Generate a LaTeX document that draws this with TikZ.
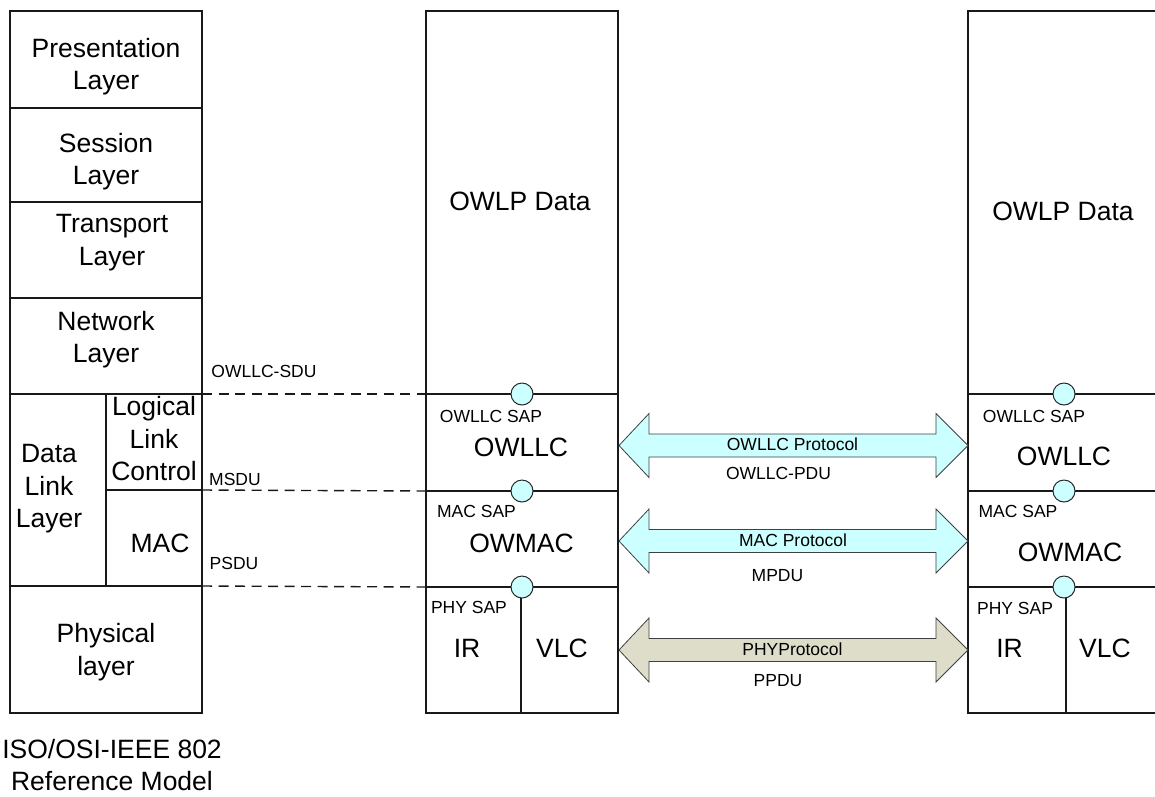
\documentclass[tikz,border=0pt]{standalone}
\usepackage{fontspec}
\setmainfont{Liberation Sans}
\definecolor{sapfill}{HTML}{CCFFFF}
\definecolor{arrfill}{HTML}{CCFFFF}
\definecolor{phyfill}{HTML}{DDDDCA}
\newcommand{\owarrow}[3]{% name, y centre, fill
  \draw[arrowline, fill=#3] (619,#2) coordinate (#1W) -- (649,{#2-32}) -- (649,{#2-11.5}) -- (936,{#2-11.5}) -- (936,{#2-32})
    -- (968,#2) coordinate (#1E) -- (936,{#2+32}) -- (936,{#2+11.5}) -- (649,{#2+11.5}) -- (649,{#2+32}) -- cycle;}
\begin{document}
\begin{tikzpicture}[x=1pt,y=-1pt,
  frame/.style={line width=1.4pt, draw=black!90},
  big/.style={font=\fontsize{26.5}{32.5}\selectfont, align=center, inner sep=0pt},
  small/.style={font=\fontsize{17.5}{21}\selectfont, inner sep=0pt},
  sap/.style={circle, draw=black!85, line width=1pt, fill=sapfill, minimum size=22pt, inner sep=0pt},
  dashline/.style={line width=1.4pt, draw=black!90, dash pattern=on 10pt off 6.5pt},
  arrowline/.style={draw=black!75, line width=0.8pt}
]
\clip (0,0) rectangle (1155,796);
\fill[white] (0,0) rectangle (1155,796);

% ---------- left reference stack ----------
\draw[frame] (10,11) rectangle (202,713);
\draw[frame] (10,108) -- (202,108);
\draw[frame] (10,202) -- (202,202);
\draw[frame] (10,298) -- (202,298);
\draw[frame] (10,394) -- (202,394);
\draw[frame] (10,586) -- (202,586);
\draw[frame] (106,394) -- (106,586);
\draw[frame] (106,490) -- (202,490);

\node[big] (pres) at (106,66.7) {Presentation\\Layer};
\node[big] (sess) at (106,161.7) {Session\\Layer};
\node[big] (trans) at (112,242.7) {Transport\\Layer};
\node[big] (netw) at (106,339.7) {Network\\Layer};
\node[big] (dll) at (49,489) {Data\\Link\\Layer};
\node[big] (llc) at (154,439) {Logical\\Link\\Control};
\node[big] (mac) at (160,543) {MAC};
\node[big] (phys) at (106,652) {Physical\\layer};
\node[big] (iso) at (112,765) {ISO/OSI-IEEE 802\\Reference Model};

% ---------- middle stack ----------
\draw[frame] (426,11) rectangle (618,713);
\draw[frame] (426,394) -- (618,394);
\draw[frame] (426,491) -- (618,491);
\draw[frame] (426,587) -- (618,587);
\draw[frame] (521,587) -- (521,713);

% ---------- right stack (cut at the page edge) ----------
\draw[frame] (1170,11) -- (968,11) -- (968,713) -- (1170,713);
\draw[frame] (968,394) -- (1170,394);
\draw[frame] (968,491) -- (1170,491);
\draw[frame] (968,587) -- (1170,587);
\draw[frame] (1066,587) -- (1066,713);

% ---------- SAP circles ----------
\node[sap] (sapM1) at (522,394) {};
\node[sap] (sapM2) at (522,491) {};
\node[sap] (sapM3) at (522,587) {};
\node[sap] (sapR1) at (1064,394) {};
\node[sap] (sapR2) at (1064,491) {};
\node[sap] (sapR3) at (1064,587) {};

% ---------- dashed service-data connectors ----------
\coordinate (sduL) at (202,394); \coordinate (sduM) at (426,394);
\coordinate (msduL) at (202,490); \coordinate (msduM) at (426,491);
\coordinate (psduL) at (202,586); \coordinate (psduM) at (426,587);
\draw[dashline] (sduL) -- (sduM);
\draw[dashline] (msduL) -- (msduM);
\draw[dashline] (psduL) -- (psduM);
\node[small] (sdu) at (264,371) {OWLLC-SDU};
\node[small] (msdu) at (235,479.5) {MSDU};
\node[small] (psdu) at (234,563) {PSDU};

% ---------- middle texts ----------
\node[big] (dataM) at (520,201) {OWLP Data};
\node[small] (sapM1t) at (491,416) {OWLLC SAP};
\node[big] (owllcM) at (521,447) {OWLLC};
\node[small] (sapM2t) at (476.5,511) {MAC SAP};
\node[big] (owmacM) at (521.5,543) {OWMAC};
\node[small] (sapM3t) at (469,607.5) {PHY SAP};
\node[big] (irM) at (467,648.5) {IR};
\node[big] (vlcM) at (562,648.5) {VLC};

% ---------- right texts ----------
\node[big] (dataR) at (1063,211) {OWLP Data};
\node[small] (sapR1t) at (1034,416) {OWLLC SAP};
\node[big] (owllcR) at (1064,456.5) {OWLLC};
\node[small] (sapR2t) at (1018,511) {MAC SAP};
\node[big] (owmacR) at (1070,552.5) {OWMAC};
\node[small] (sapR3t) at (1015,608) {PHY SAP};
\node[big] (irR) at (1009.5,648.5) {IR};
\node[big] (vlcR) at (1105,648.5) {VLC};

% ---------- protocol arrows ----------
\owarrow{llcA}{445.5}{arrfill}
\owarrow{macA}{541}{arrfill}
\owarrow{phyA}{650}{phyfill}
\node[small] (llcP) at (792.5,444) {OWLLC Protocol};
\node[small] (llcPDU) at (778.5,473) {OWLLC-PDU};
\node[small] (macP) at (793,540) {MAC Protocol};
\node[small] (mpdu) at (777.5,576) {MPDU};
\node[small] (phyP) at (792.5,649.5) {PHYProtocol};
\node[small] (ppdu) at (778,681) {PPDU};
\end{tikzpicture}
\end{document}
